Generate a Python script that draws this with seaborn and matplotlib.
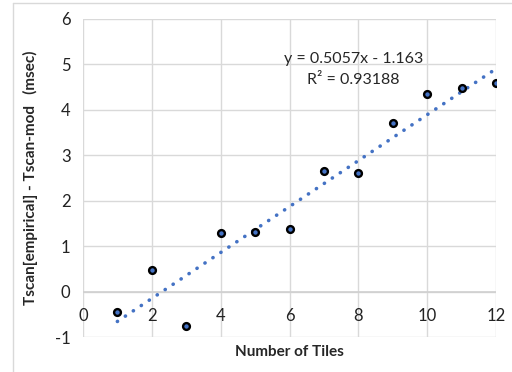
import matplotlib; matplotlib.use('Agg')
import matplotlib.pyplot as plt
import seaborn as sns
import numpy as np
import pandas as pd
from matplotlib.lines import Line2D

# ── Data ──────────────────────────────────────────────────────────
tiles = [1, 2, 3, 4, 5, 6, 7, 8, 9, 10, 11, 12]
diff_ms = [-0.45, 0.47, -0.76, 1.28, 1.32, 1.37, 2.66, 2.61, 3.71, 4.34, 4.47, 4.60]
slope, intercept = 0.5057, -1.163
r2_text = "R² = 0.93188"
x_ticks = [0, 2, 4, 6, 8, 10, 12]
y_ticks = [-1, 0, 1, 2, 3, 4, 5, 6]

df = pd.DataFrame({'tiles': tiles, 'diff': diff_ms})
trend = pd.DataFrame({'tiles': [tiles[0], tiles[-1]]})
trend['fit'] = slope * trend['tiles'] + intercept

# ── Plot ──────────────────────────────────────────────────────────
sns.set_style('white')
plt.rcParams['font.family'] = ['Lato', 'DejaVu Sans']
plt.rcParams['axes.unicode_minus'] = False

fig = plt.figure(figsize=(5.12, 3.72), dpi=100)
ax = fig.add_axes([0.162, 0.094, 0.807, 0.855])

ax.plot(trend['tiles'], trend['fit'], color='#4472C4', lw=2.6,
        linestyle=(0, (0.05, 2.6)), dash_capstyle='round', zorder=2)
sns.scatterplot(data=df, x='tiles', y='diff', ax=ax, s=24,
                color='#4472C4', edgecolor='black', linewidth=1.7, zorder=3)

ax.set_xlim(0, 12); ax.set_ylim(-1, 6)
ax.set_xticks(x_ticks); ax.set_yticks(y_ticks)
ax.grid(True, color='#d9d9d9', lw=1)
ax.set_axisbelow(True)
for s in ax.spines.values():
    s.set_visible(False)
ax.axhline(0, color='#d0d0d0', lw=1.2, zorder=1)
ax.tick_params(length=0, labelsize=12, colors='#222222')
ax.tick_params(axis='x', pad=-21)
ax.tick_params(axis='y', pad=9)

ax.set_xlabel('Number of Tiles', fontsize=11, fontweight='bold', labelpad=6)
ax.set_ylabel('Tscan[empirical] - Tscan-mod   (msec)', fontsize=11,
              fontweight='bold', labelpad=12)

# trendline label (Excel-style)
ax.text(7.85, 5.12, f'y = {slope}x - {abs(intercept)}', fontsize=11.5,
        ha='center', va='center')
ax.text(7.85, 4.65, r2_text, fontsize=11.5, ha='center', va='center')

# chart-area border (left + top only visible)
fig.add_artist(Line2D([13/512, 13/512], [0, 1 - 3/372], color='#d9d9d9', lw=1))
fig.add_artist(Line2D([13/512, 1], [1 - 3/372, 1 - 3/372], color='#d9d9d9', lw=1))

plt.savefig('out.png', dpi=100)
